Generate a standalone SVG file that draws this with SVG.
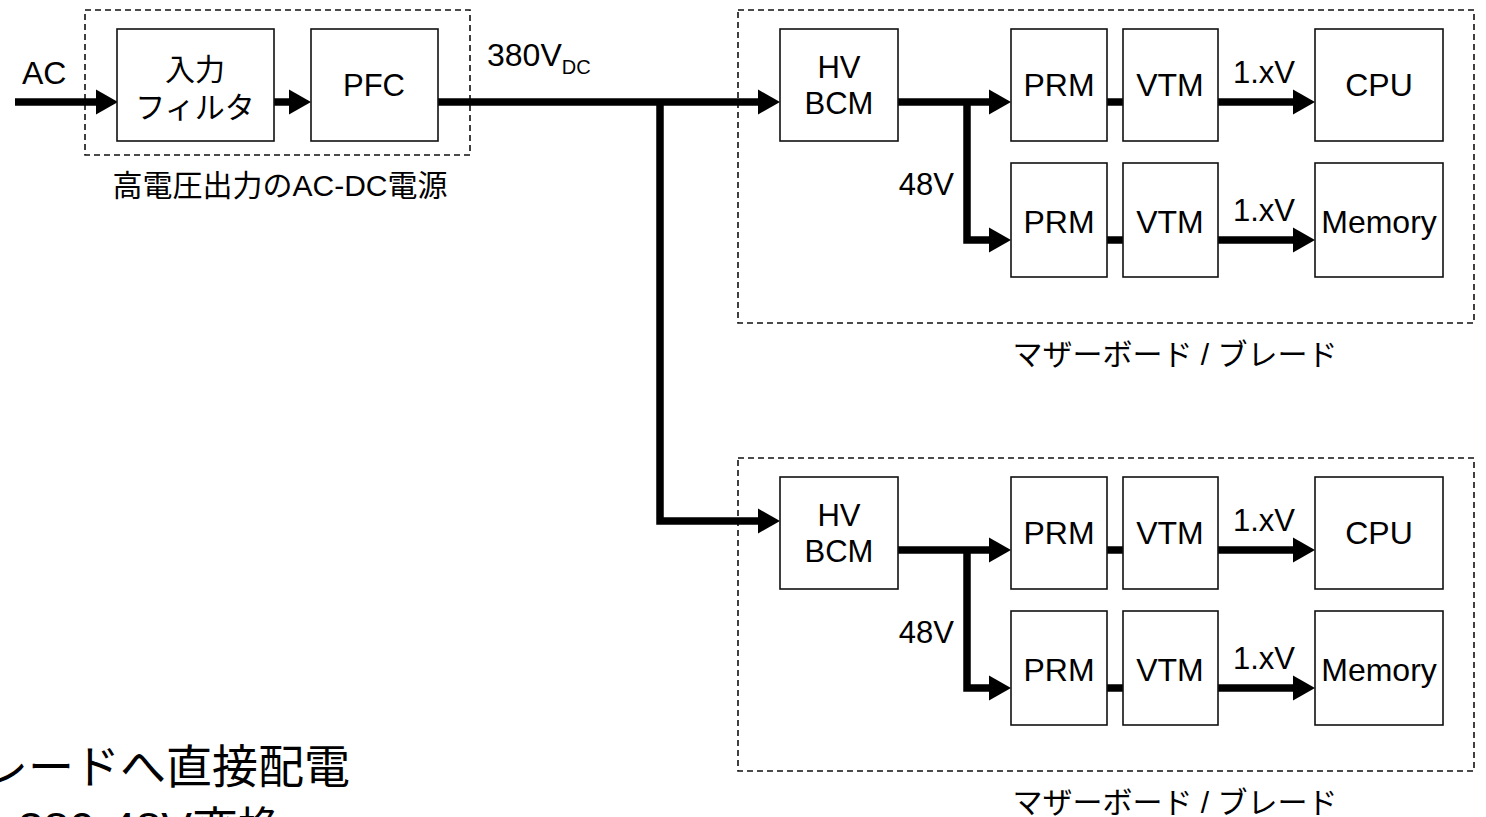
<svg xmlns="http://www.w3.org/2000/svg" width="1486" height="817" viewBox="0 0 1486 817">
<defs>
<style>
.box{fill:#fff;stroke:#111;stroke-width:1.6}
.dash{fill:none;stroke:#111;stroke-width:1.6;stroke-dasharray:6 4}
.t{font-family:"Liberation Sans","Noto Sans CJK JP",sans-serif;font-size:32px;fill:#000}
.s{font-size:31px}
.c{text-anchor:middle}
.jp{font-family:"Liberation Sans","Noto Sans CJK JP",sans-serif;font-size:30px;fill:#000}
.big{font-family:"Liberation Sans","Noto Sans CJK JP",sans-serif;font-size:46px;fill:#000}
.w{fill:none;stroke:#000;stroke-width:7.5;stroke-linejoin:miter;stroke-linecap:butt}
</style>
<marker id="ah" markerUnits="userSpaceOnUse" markerWidth="24" markerHeight="26" refX="0" refY="12.5" orient="auto" overflow="visible">
<path d="M0,0 L22,12.5 L0,25 Z" fill="#000"/>
</marker>
</defs>
<rect width="1486" height="817" fill="#fff"/>

<g id="acdc-group">
<rect class="dash" x="85" y="10" width="385" height="145"/>
<text class="jp c" x="280" y="196" font-size="32">高電圧出力のAC-DC電源</text>
</g>
<g id="board1-group">
<rect class="dash" x="738" y="10" width="736" height="313"/>
<text class="jp c" x="1175" y="365">マザーボード / ブレード</text>
</g>
<g id="board2-group">
<rect class="dash" x="738" y="458" width="736" height="313"/>
<text class="jp c" x="1175" y="813">マザーボード / ブレード</text>
</g>

<g id="connectors">
<path class="w" d="M15,102 H96" marker-end="url(#ah)"/>
<path class="w" d="M274,102 H289" marker-end="url(#ah)"/>
<path class="w" d="M438,102 H758" marker-end="url(#ah)"/>
<path class="w" d="M660,102 V521 H758" marker-end="url(#ah)"/>
<path class="w" d="M898,102 H989" marker-end="url(#ah)"/>
<path class="w" d="M967,102 V240 H989" marker-end="url(#ah)"/>
<path class="w" d="M1107,102 H1123"/>
<path class="w" d="M1218,102 H1293" marker-end="url(#ah)"/>
<path class="w" d="M1107,240 H1123"/>
<path class="w" d="M1218,240 H1293" marker-end="url(#ah)"/>
<path class="w" d="M898,550 H989" marker-end="url(#ah)"/>
<path class="w" d="M967,550 V688 H989" marker-end="url(#ah)"/>
<path class="w" d="M1107,550 H1123"/>
<path class="w" d="M1218,550 H1293" marker-end="url(#ah)"/>
<path class="w" d="M1107,688 H1123"/>
<path class="w" d="M1218,688 H1293" marker-end="url(#ah)"/>
</g>

<g id="labels">
<text class="t" x="22" y="84" font-size="30">AC</text>
<text class="t" x="487" y="66">380V<tspan font-size="20" dy="8">DC</tspan></text>
<text class="t s" x="954" y="195" text-anchor="end">48V</text>
<text class="t s c" x="1264" y="83">1.xV</text>
<text class="t s c" x="1264" y="221">1.xV</text>
<text class="t s" x="954" y="643" text-anchor="end">48V</text>
<text class="t s c" x="1264" y="531">1.xV</text>
<text class="t s c" x="1264" y="669">1.xV</text>
</g>

<g id="input-filter">
<rect class="box" x="117" y="29" width="157" height="112"/>
<text class="jp c" x="195" y="80" font-size="31">入力</text>
<text class="jp c" x="195" y="118" font-size="31">フィルタ</text>
</g>
<g id="pfc">
<rect class="box" x="311" y="29" width="127" height="112"/>
<text class="t s c" x="374" y="96">PFC</text>
</g>

<g id="hvbcm1">
<rect class="box" x="780" y="29" width="118" height="112"/>
<text class="t s c" x="839" y="78">HV</text>
<text class="t s c" x="839" y="114">BCM</text>
</g>
<g id="prm1a">
<rect class="box" x="1011" y="29" width="96" height="112"/>
<text class="t c" x="1059" y="96">PRM</text>
</g>
<g id="vtm1a">
<rect class="box" x="1123" y="29" width="95" height="112"/>
<text class="t c" x="1170" y="96">VTM</text>
</g>
<g id="cpu1">
<rect class="box" x="1315" y="29" width="128" height="112"/>
<text class="t c" x="1379" y="96">CPU</text>
</g>
<g id="prm1b">
<rect class="box" x="1011" y="163" width="96" height="114"/>
<text class="t c" x="1059" y="233">PRM</text>
</g>
<g id="vtm1b">
<rect class="box" x="1123" y="163" width="95" height="114"/>
<text class="t c" x="1170" y="233">VTM</text>
</g>
<g id="mem1">
<rect class="box" x="1315" y="163" width="128" height="114"/>
<text class="t c" x="1379" y="233">Memory</text>
</g>

<g id="hvbcm2">
<rect class="box" x="780" y="477" width="118" height="112"/>
<text class="t s c" x="839" y="526">HV</text>
<text class="t s c" x="839" y="562">BCM</text>
</g>
<g id="prm2a">
<rect class="box" x="1011" y="477" width="96" height="112"/>
<text class="t c" x="1059" y="544">PRM</text>
</g>
<g id="vtm2a">
<rect class="box" x="1123" y="477" width="95" height="112"/>
<text class="t c" x="1170" y="544">VTM</text>
</g>
<g id="cpu2">
<rect class="box" x="1315" y="477" width="128" height="112"/>
<text class="t c" x="1379" y="544">CPU</text>
</g>
<g id="prm2b">
<rect class="box" x="1011" y="611" width="96" height="114"/>
<text class="t c" x="1059" y="681">PRM</text>
</g>
<g id="vtm2b">
<rect class="box" x="1123" y="611" width="95" height="114"/>
<text class="t c" x="1170" y="681">VTM</text>
</g>
<g id="mem2">
<rect class="box" x="1315" y="611" width="128" height="114"/>
<text class="t c" x="1379" y="681">Memory</text>
</g>

<g id="notes">
<text class="big" x="-18" y="783">レードへ直接配電</text>
<text class="big" x="18" y="845">380-48V変換</text>
</g>
</svg>
